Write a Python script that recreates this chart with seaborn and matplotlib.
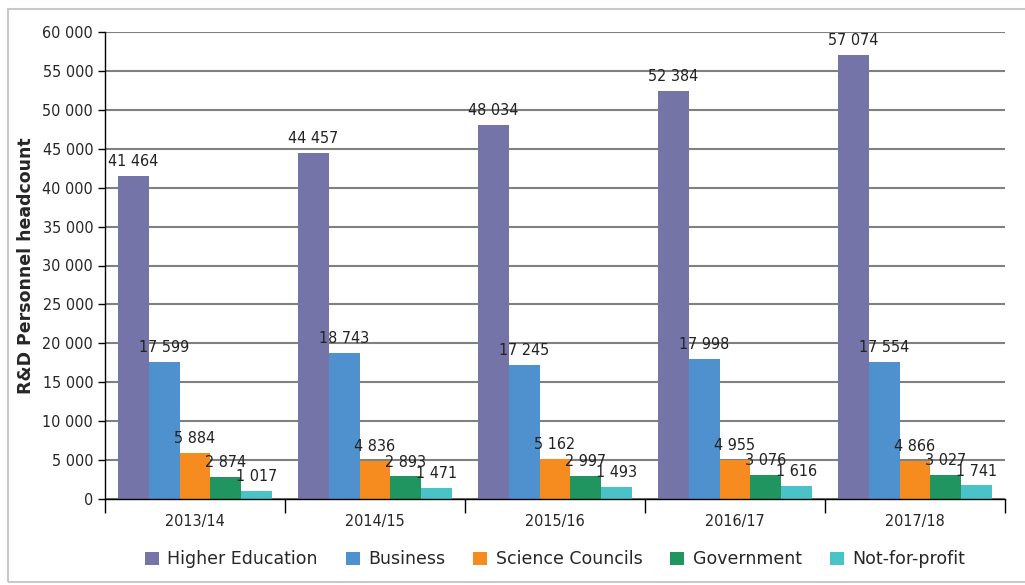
import pandas as pd
import matplotlib.pyplot as plt
import seaborn as sns
from matplotlib.patches import Rectangle
from matplotlib.ticker import FuncFormatter

# --- DATA ---
years = ["2013/14", "2014/15", "2015/16", "2016/17", "2017/18"]
sectors = ["Higher Education", "Business", "Science Councils", "Government", "Not-for-profit"]
higher_education = [41464, 44457, 48034, 52384, 57074]
business = [17599, 18743, 17245, 17998, 17554]
science_councils = [5884, 4836, 5162, 4955, 4866]
government = [2874, 2893, 2997, 3076, 3027]
not_for_profit = [1017, 1471, 1493, 1616, 1741]
colors = ["#7474A8", "#4F91CE", "#F68C20", "#21955F", "#4AC3C8"]

rows = []
for sector, vals in zip(sectors, [higher_education, business, science_councils, government, not_for_profit]):
    for yr, v in zip(years, vals):
        rows.append({"Year": yr, "Sector": sector, "Headcount": v})
df = pd.DataFrame(rows)

sns.set_style("white")
plt.rcParams['font.family'] = ['DejaVu Sans']
plt.rcParams['font.stretch'] = 'condensed'


def space_fmt(v):
    return f"{int(round(v)):,}".replace(",", " ")


fig = plt.figure(figsize=(10.25, 5.85), dpi=100)
fig.patches.append(Rectangle((8 / 1025, 3 / 585), 1.0, 1 - 12 / 585, transform=fig.transFigure,
                             fill=False, edgecolor="#c8c8c8", linewidth=1.5))
ax = fig.add_axes([105 / 1025, 1 - 499 / 585, 900 / 1025, 467 / 585])

sns.barplot(data=df, x="Year", y="Headcount", hue="Sector", hue_order=sectors,
            palette=colors, width=0.86, saturation=1, linewidth=0, ax=ax, legend=True)

for cont in ax.containers:
    ax.bar_label(cont, labels=[space_fmt(b.get_height()) for b in cont], padding=5,
                 fontsize=11.5, color="#222222")

ax.set_ylim(0, 60000)
ax.set_xlim(-0.5, 4.5)
ax.set_yticks(range(0, 60001, 5000))
ax.yaxis.set_major_formatter(FuncFormatter(lambda v, p: space_fmt(v)))
ax.yaxis.grid(True, color="#808080", linewidth=1.5)
ax.set_axisbelow(True)

for side in ["top", "right"]:
    ax.spines[side].set_visible(False)
ax.spines["left"].set_color("black")
ax.spines["bottom"].set_color("black")
ax.spines["left"].set_linewidth(1)
ax.spines["bottom"].set_linewidth(1)

ax.tick_params(axis="y", left=True, length=5, width=1, color="black", labelsize=11.5)
ax.set_xticks([-0.5, 0.5, 1.5, 2.5, 3.5, 4.5], minor=True)
ax.tick_params(axis="x", which="major", length=0, labelsize=11.5, pad=11)
ax.tick_params(axis="x", which="minor", bottom=True, length=10, width=1, color="black")

ax.set_xlabel("")
ax.set_ylabel("R&D Personnel headcount", fontsize=12.5, fontweight="bold",
              fontstretch="normal", labelpad=5)

leg = ax.legend(loc="upper center", bbox_to_anchor=(0.5, -0.095), ncol=5, frameon=False,
                fontsize=12.5, handlelength=0.8, handleheight=0.8, handletextpad=0.5,
                columnspacing=1.6, borderaxespad=0)
for t in leg.get_texts():
    t.set_fontstretch("normal")

plt.savefig("out.png", dpi=100)
